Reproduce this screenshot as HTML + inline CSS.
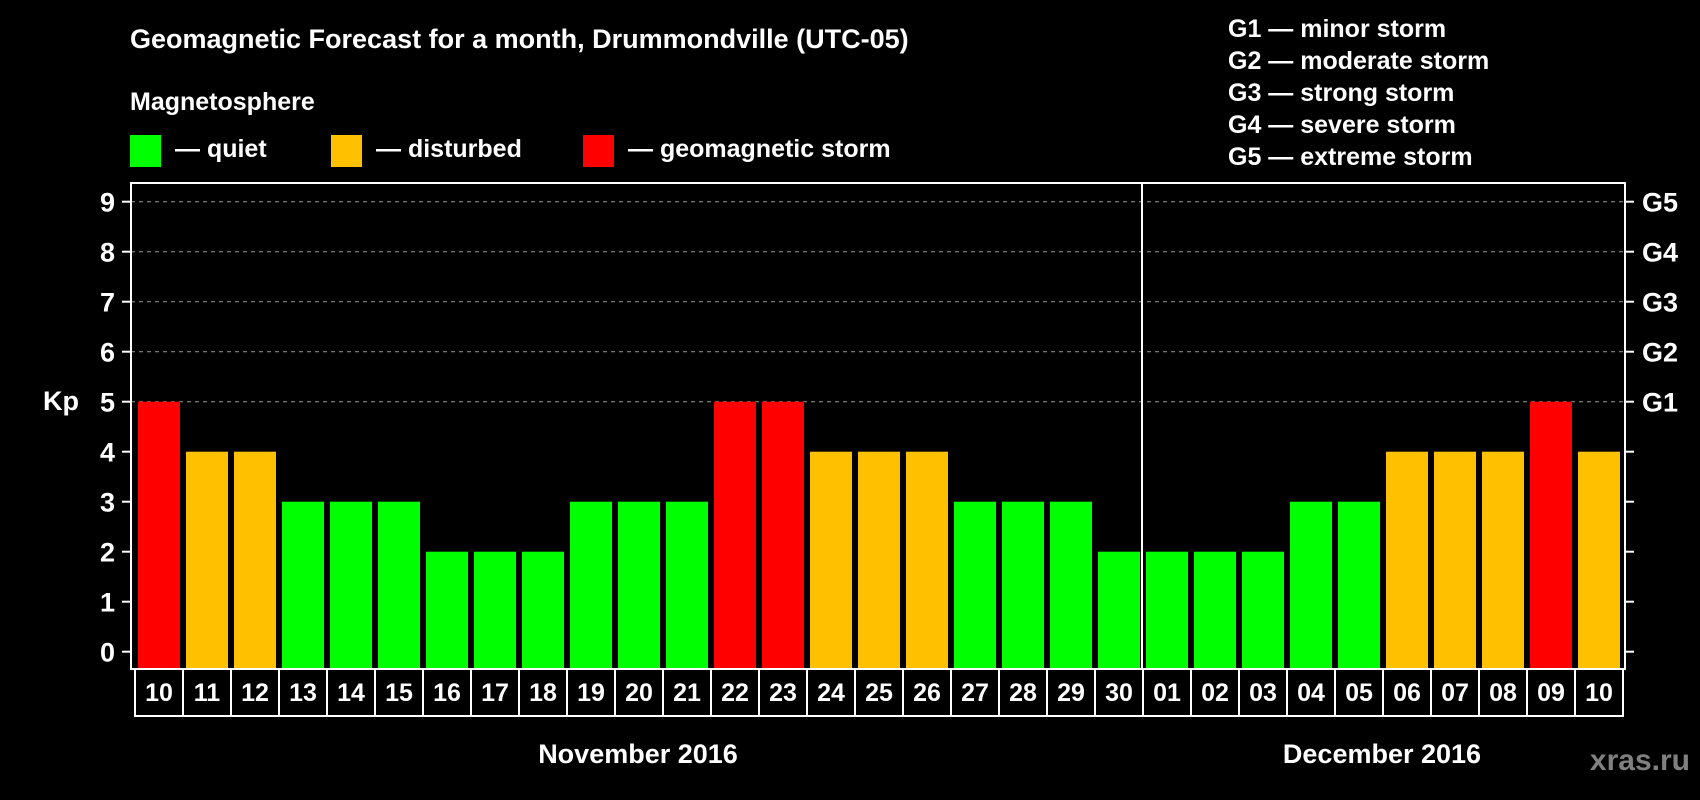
<!DOCTYPE html>
<html><head><meta charset="utf-8"><style>
html,body{margin:0;padding:0;background:#000;}
svg{display:block;font-family:"Liberation Sans",Arial,sans-serif;font-weight:bold;}
</style></head><body>
<svg id="chart" width="1700" height="800" viewBox="0 0 1700 800" xmlns="http://www.w3.org/2000/svg">
<rect width="1700" height="800" fill="#000"/>
<text x="130" y="48" fill="#fff" font-size="27">Geomagnetic Forecast for a month, Drummondville (UTC-05)</text>
<text x="130" y="110" fill="#fff" font-size="25">Magnetosphere</text>
<rect x="130" y="135" width="31" height="32" fill="#00ff00"/>
<text x="175" y="157" fill="#fff" font-size="25">— quiet</text>
<rect x="331" y="135" width="31" height="32" fill="#ffc000"/>
<text x="376" y="157" fill="#fff" font-size="25">— disturbed</text>
<rect x="583" y="135" width="31" height="32" fill="#ff0000"/>
<text x="628" y="157" fill="#fff" font-size="25">— geomagnetic storm</text>
<g fill="#fff" font-size="25">
<text x="1228" y="37">G1 — minor storm</text>
<text x="1228" y="69">G2 — moderate storm</text>
<text x="1228" y="101">G3 — strong storm</text>
<text x="1228" y="133">G4 — severe storm</text>
<text x="1228" y="165">G5 — extreme storm</text>
</g>
<text x="43" y="410" fill="#fff" font-size="27">Kp</text>
<g id="grid"></g>
<g id="bars"></g>
<rect x="131" y="183" width="1494" height="486" fill="none" stroke="#fff" stroke-width="2"/>
<g id="axes"></g>
<text x="638" y="763" fill="#fff" font-size="27" text-anchor="middle">November 2016</text>
<text x="1382" y="763" fill="#fff" font-size="27" text-anchor="middle">December 2016</text>
<text x="1690" y="770" fill="#808080" font-size="30" text-anchor="end">xras.ru</text>
</svg>
<script>
const days = ["10","11","12","13","14","15","16","17","18","19","20","21","22","23","24","25","26","27","28","29","30","01","02","03","04","05","06","07","08","09","10"];
const kpValues = [5,4,4,3,3,3,2,2,2,3,3,3,5,5,4,4,4,3,3,3,2,2,2,2,3,3,4,4,4,5,4];
const yTicks = [0,1,2,3,4,5,6,7,8,9];
const gLabels = ["","","","","","G1","G2","G3","G4","G5"];
const NS="http://www.w3.org/2000/svg";
const plotL=131, plotR=1625, plotB=669, cellX0=135, cellW=48;
function y(v){return 651.7-50*v;}
function xCell(i){return cellX0+cellW*i;}
function color(v){return v>=5?"#ff0000":(v>=4?"#ffc000":"#00ff00");}
function mk(tag,attrs,parent){const e=document.createElementNS(NS,tag);for(const k in attrs)e.setAttribute(k,attrs[k]);parent.appendChild(e);return e;}
const grid=document.getElementById('grid'), bars=document.getElementById('bars'), axes=document.getElementById('axes');
yTicks.forEach((t,i)=>{
  if(t>=5){const g=mk('line',{x1:plotL,x2:plotR,y1:y(t),y2:y(t),stroke:'#9a9a9a','stroke-width':1,'stroke-dasharray':'4,4'},grid);
  
  }
  const tl=mk('line',{x1:122,x2:plotL,y1:y(t),y2:y(t),stroke:'#fff','stroke-width':2},axes);
  
  
  const tr=mk('line',{x1:plotR,x2:1634,y1:y(t),y2:y(t),stroke:'#fff','stroke-width':2},axes);
  
  
  const lab=mk('text',{x:115,y:y(t)+10,fill:'#fff','font-size':27,'text-anchor':'end'},axes);
  lab.textContent=t;
  
  
  if(gLabels[i]){const gl=mk('text',{x:1642,y:y(t)+10,fill:'#fff','font-size':27},axes);
  gl.textContent=gLabels[i];
  
  }
});
kpValues.forEach((v,i)=>{
  const b=mk('rect',{x:xCell(i)+3,y:y(v),width:42,height:plotB-y(v),fill:color(v)},bars);
  
  
});
days.forEach((d,i)=>{
  const c=mk('rect',{x:xCell(i),y:669,width:cellW,height:47,fill:'#000',stroke:'#fff','stroke-width':2},axes);
  
  
  const t=mk('text',{x:xCell(i)+cellW/2,y:701,fill:'#fff','font-size':25,'text-anchor':'middle'},axes);
  t.textContent=d;
  
  
});
const split=days.indexOf("01");
const dv=mk('line',{x1:xCell(split)-1,x2:xCell(split)-1,y1:183,y2:669,stroke:'#fff','stroke-width':2},axes);


</script>
</body></html>
